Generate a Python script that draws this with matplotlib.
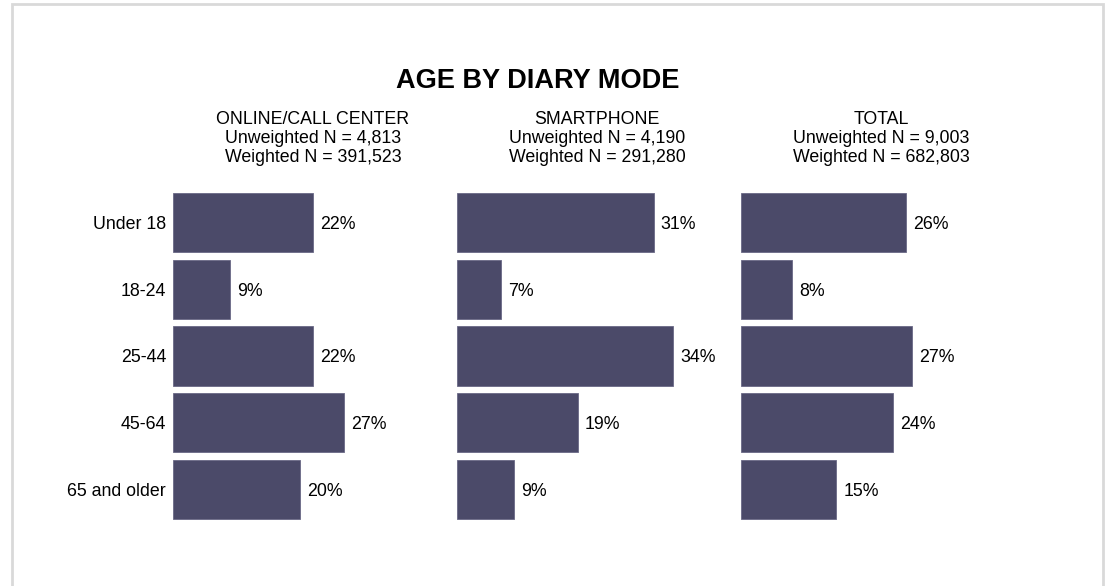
import matplotlib.pyplot as plt
from matplotlib.patches import Rectangle

plt.rcParams['font.family'] = ['Liberation Sans', 'DejaVu Sans']

# age groups and share of each group per diary mode (%)
ages = ["Under 18", "18-24", "25-44", "45-64", "65 and older"]
online = [22, 9, 22, 27, 20]
smartphone = [31, 7, 34, 19, 9]
total = [26, 8, 27, 24, 15]

panel_names = ["ONLINE/CALL CENTER", "SMARTPHONE", "TOTAL"]
unweighted_n = ["4,813", "4,190", "9,003"]
weighted_n = ["391,523", "291,280", "682,803"]

bar_color = "#4b4a69"

W, H = 1109, 586
fig = plt.figure(figsize=(W / 100, H / 100), dpi=100)
fig.patch.set_facecolor("white")

# light frame round the page
fig.add_artist(Rectangle((12 / W, -0.05), (1103 - 12) / W, 1.05 - 4 / H,
                         transform=fig.transFigure, fill=False,
                         edgecolor="#d9d9d9", linewidth=2))

fig.text(538 / W, 1 - 78 / H, "AGE BY DIARY MODE", ha="center",
         va="center_baseline", fontsize=19.5, fontweight="bold", color="black")

px_per_pct = 6.35
ax_w = 280
ax_top, ax_bot = 189, 523
starts = [173, 457, 741]
fs = 12.8

for i, vals in enumerate([online, smartphone, total]):
    x0 = starts[i]
    ax = fig.add_axes([x0 / W, 1 - ax_bot / H, ax_w / W, (ax_bot - ax_top) / H])
    ax.set_xlim(0, ax_w / px_per_pct)
    ax.set_ylim(len(ages) - 0.5, -0.5)
    ax.barh(range(len(ages)), vals, height=0.884, color=bar_color,
            edgecolor="#6a6986", linewidth=0.6)
    for j, v in enumerate(vals):
        ax.text(v + 1.1, j, f"{v}%", va="center_baseline", ha="left",
                fontsize=fs, color="black")
    ax.set_axis_off()
    if i == 0:
        for j, a in enumerate(ages):
            ax.text(-1.1, j, a, va="center_baseline", ha="right", fontsize=fs,
                    color="black")
    cx = (x0 + ax_w / 2) / W
    lines = [panel_names[i], f"Unweighted N = {unweighted_n[i]}",
             f"Weighted N = {weighted_n[i]}"]
    for y, s in zip([117, 136.5, 156], lines):
        fig.text(cx, 1 - y / H, s, ha="center", va="center_baseline", fontsize=fs)

fig.savefig("out.png", dpi=100)
